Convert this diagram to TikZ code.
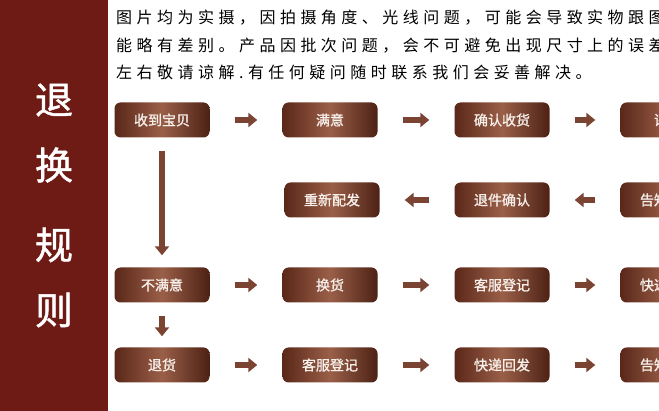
\documentclass[tikz,border=0pt]{standalone}
\usepackage{fontspec}
\newfontfamily\cjk{Noto Sans CJK SC}
\newfontfamily\cjkheavy[FakeBold=1.2]{Noto Sans CJK SC}
\newfontfamily\cjkwide[LetterSpace=28]{Noto Sans CJK SC}
\usetikzlibrary{arrows.meta}
\definecolor{panelred}{HTML}{6E1B15}
\definecolor{boxdark}{HTML}{5A2718}
\definecolor{boxlight}{HTML}{9A5F48}
\definecolor{arrowbrown}{HTML}{7A4332}
\definecolor{boxtext}{HTML}{F6EFEA}

\begin{document}
\begin{tikzpicture}[x=1pt,y=-1pt,every node/.style={inner sep=0pt},
      box/.style={rounded corners=6pt,minimum width=95pt,minimum height=35pt,
        left color=boxdark,right color=boxdark!85!black,middle color=boxlight,
        text=boxtext,font=\cjkheavy\fontsize{14}{14}\selectfont},
      flow/.style={draw=arrowbrown,line width=6pt,shorten <=25pt,shorten >=25pt,
        -{Triangle[length=9pt,width=14pt]}},
      bigchar/.style={text=white,font=\cjkheavy\fontsize{38}{38}\selectfont}]
      \clip(0,0)rectangle(659,411);
      \fill[white](0,0)rectangle(659,411);
      % left panel
      \fill[panelred](0,0)rectangle(108,411);
      \node[bigchar](t1)at(54,100){退};
      \node[bigchar](t2)at(54,165){换};
      \node[bigchar](t3)at(54,245){规};
      \node[bigchar](t4)at(54,310){则};
      % notice text
      \node[anchor=base west,font=\cjkwide\fontsize{16}{16}\selectfont](l1)at(116,24){图片均为实摄，因拍摄角度、光线问题，可能会导致实物跟图片};
      \node[anchor=base west,font=\cjkwide\fontsize{16}{16}\selectfont](l2)at(116,52){能略有差别。产品因批次问题，会不可避免出现尺寸上的误差};
      \node[anchor=base west,font=\cjkwide\fontsize{16}{16}\selectfont](l3)at(116,79){左右敬请谅解.有任何疑问随时联系我们会妥善解决。};
      % boxes
      \node[box](shou)at(162,120){收到宝贝};
      \node[box](manyi)at(330,120){满意};
      \node[box](queren)at(502,120){确认收货};
      \node[box](pingjia)at(668,120){评价};
      \node[box](chongfa)at(332,200){重新配发};
      \node[box](tuijian)at(502,200){退件确认};
      \node[box](gaozhi1)at(668,200){告知单号};
      \node[box](bumanyi)at(162,285){不满意};
      \node[box](huanhuo)at(330,285){换货};
      \node[box](kefu1)at(502,285){客服登记};
      \node[box](kuaidi1)at(668,285){快递寄回};
      \node[box](tuihuo)at(162,365){退货};
      \node[box](kefu2)at(330,365){客服登记};
      \node[box](kuaidi2)at(502,365){快递回发};
      \node[box](gaozhi2)at(668,365){告知单号};
      % arrows
      \draw[flow](shou)--(manyi);
      \draw[flow](manyi)--(queren);
      \draw[flow](queren)--(pingjia);
      \draw[flow](gaozhi1)--(tuijian);
      \draw[flow](tuijian)--(chongfa);
      \draw[flow](bumanyi)--(huanhuo);
      \draw[flow](huanhuo)--(kefu1);
      \draw[flow](kefu1)--(kuaidi1);
      \draw[flow](tuihuo)--(kefu2);
      \draw[flow](kefu2)--(kuaidi2);
      \draw[flow](kuaidi2)--(gaozhi2);
      \draw[flow,shorten <=13pt,shorten >=12pt](shou)--(bumanyi);
      \draw[flow,shorten <=13pt,shorten >=11pt](bumanyi)--(tuihuo);
    \end{tikzpicture}
\end{document}
